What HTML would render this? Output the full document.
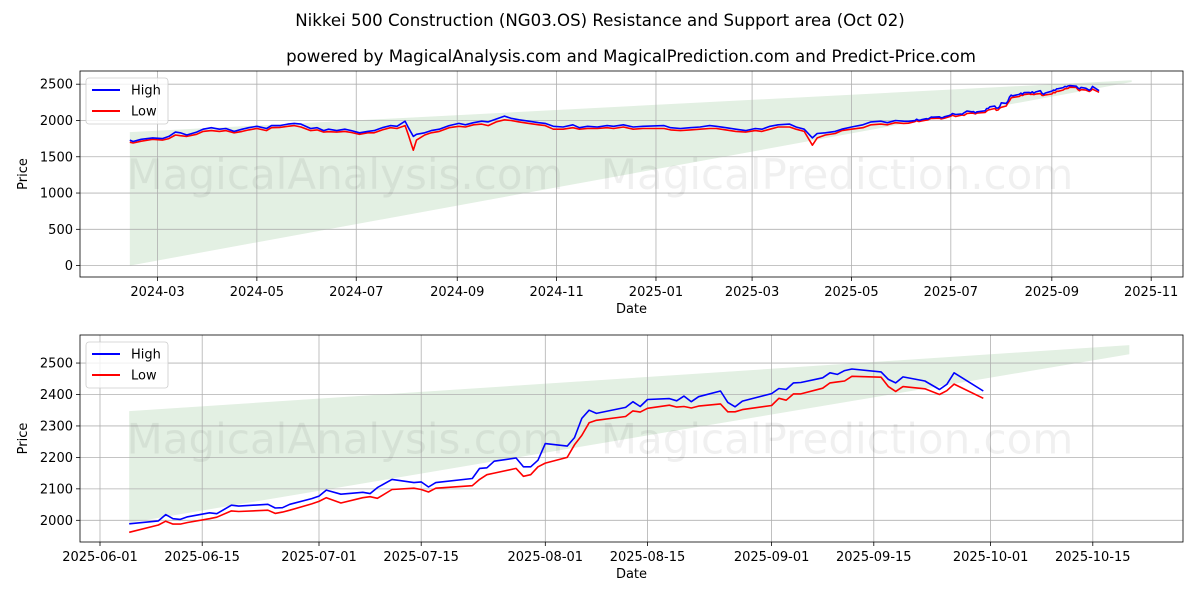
<!DOCTYPE html>
<html><head><meta charset="utf-8">
<style>
html,body{margin:0;padding:0;background:#fff;}
svg{display:block;font-family:"DejaVu Sans","Liberation Sans",sans-serif;}
</style></head>
<body>
<svg id="chart" width="1200" height="600" viewBox="0 0 1200 600" xmlns="http://www.w3.org/2000/svg">
<text x="600" y="26" text-anchor="middle" font-size="16.6">Nikkei 500 Construction (NG03.OS) Resistance and Support area (Oct 02)</text>
<text x="631" y="62" text-anchor="middle" font-size="16.6">powered by MagicalAnalysis.com and MagicalPrediction.com and Predict-Price.com</text>
<g id="top"></g>
<g id="bot"></g>
</svg>
<script>
const earlyDates=["2024-02-13","2024-02-15","2024-02-20","2024-02-27","2024-03-04","2024-03-08","2024-03-12","2024-03-15","2024-03-19","2024-03-25","2024-03-29","2024-04-03","2024-04-08","2024-04-12","2024-04-17","2024-04-22","2024-04-26","2024-05-01","2024-05-07","2024-05-10","2024-05-15","2024-05-20","2024-05-24","2024-05-28","2024-06-03","2024-06-07","2024-06-11","2024-06-14","2024-06-19","2024-06-24","2024-06-28","2024-07-03","2024-07-08","2024-07-12","2024-07-17","2024-07-22","2024-07-26","2024-07-31","2024-08-02","2024-08-05","2024-08-07","2024-08-12","2024-08-16","2024-08-21","2024-08-27","2024-09-02","2024-09-06","2024-09-11","2024-09-16","2024-09-20","2024-09-25","2024-09-30","2024-10-04","2024-10-09","2024-10-15","2024-10-21","2024-10-25","2024-10-30","2024-11-05","2024-11-11","2024-11-15","2024-11-20","2024-11-26","2024-12-02","2024-12-06","2024-12-12","2024-12-18","2024-12-24","2025-01-06","2025-01-10","2025-01-16","2025-01-22","2025-01-28","2025-02-03","2025-02-07","2025-02-13","2025-02-19","2025-02-25","2025-03-03","2025-03-07","2025-03-12","2025-03-17","2025-03-24","2025-03-28","2025-04-02","2025-04-07","2025-04-10","2025-04-15","2025-04-21","2025-04-25","2025-05-01","2025-05-08","2025-05-13","2025-05-19","2025-05-23","2025-05-28","2025-06-02"];
const earlyHigh=[1730,1710,1740,1760,1750,1780,1840,1830,1800,1840,1880,1900,1880,1890,1850,1880,1900,1920,1890,1930,1930,1950,1960,1950,1890,1900,1860,1880,1860,1880,1860,1830,1850,1860,1900,1930,1920,1990,1900,1780,1810,1830,1860,1880,1930,1960,1940,1970,1990,1980,2020,2060,2030,2010,1990,1970,1960,1920,1910,1940,1900,1920,1910,1930,1920,1940,1910,1920,1930,1900,1890,1900,1910,1930,1920,1900,1880,1860,1890,1880,1920,1940,1950,1910,1880,1760,1820,1830,1850,1880,1910,1940,1980,1990,1970,2000,1990];
const earlyLow=[1700,1690,1715,1740,1730,1750,1800,1790,1780,1810,1850,1860,1850,1860,1830,1850,1870,1890,1860,1900,1905,1920,1930,1910,1860,1870,1840,1845,1840,1850,1835,1810,1830,1830,1870,1900,1890,1930,1800,1590,1730,1800,1830,1850,1900,1920,1910,1940,1950,1930,1980,2010,2000,1980,1960,1940,1930,1880,1880,1900,1880,1890,1890,1900,1890,1910,1880,1890,1890,1870,1860,1870,1880,1890,1890,1870,1850,1840,1860,1850,1880,1910,1910,1880,1850,1660,1760,1800,1820,1860,1880,1900,1940,1950,1940,1970,1960];
const recentDates=["2025-06-05","2025-06-09","2025-06-10","2025-06-11","2025-06-12","2025-06-13","2025-06-16","2025-06-17","2025-06-19","2025-06-20","2025-06-24","2025-06-25","2025-06-26","2025-06-27","2025-06-30","2025-07-01","2025-07-02","2025-07-04","2025-07-07","2025-07-08","2025-07-09","2025-07-11","2025-07-14","2025-07-15","2025-07-16","2025-07-17","2025-07-22","2025-07-23","2025-07-24","2025-07-25","2025-07-28","2025-07-29","2025-07-30","2025-07-31","2025-08-01","2025-08-04","2025-08-05","2025-08-06","2025-08-07","2025-08-08","2025-08-12","2025-08-13","2025-08-14","2025-08-15","2025-08-18","2025-08-19","2025-08-20","2025-08-21","2025-08-22","2025-08-25","2025-08-26","2025-08-27","2025-08-28","2025-09-01","2025-09-02","2025-09-03","2025-09-04","2025-09-05","2025-09-08","2025-09-09","2025-09-10","2025-09-11","2025-09-12","2025-09-16","2025-09-17","2025-09-18","2025-09-19","2025-09-22","2025-09-24","2025-09-25","2025-09-26","2025-09-30"];
const recentHigh=[1989,1998,2018,2005,2003,2011,2024,2021,2048,2045,2051,2039,2040,2051,2069,2077,2096,2083,2089,2085,2104,2130,2120,2122,2106,2120,2133,2165,2167,2188,2198,2170,2170,2191,2244,2236,2263,2324,2350,2340,2359,2377,2362,2384,2387,2380,2395,2377,2393,2411,2375,2361,2379,2403,2419,2416,2437,2438,2453,2469,2464,2476,2481,2472,2448,2437,2456,2443,2416,2432,2469,2411];
const recentLow=[1962,1985,1997,1988,1988,1993,2005,2010,2030,2028,2032,2022,2026,2032,2052,2060,2072,2055,2072,2075,2070,2098,2102,2098,2090,2102,2110,2130,2145,2150,2165,2140,2145,2170,2182,2200,2240,2270,2310,2318,2330,2348,2344,2356,2366,2360,2362,2357,2363,2370,2345,2345,2352,2365,2388,2382,2402,2402,2420,2437,2440,2443,2458,2455,2425,2410,2425,2418,2400,2412,2433,2388];
const topBandDates=["2024-02-13","2025-10-20"];
const topBandUpper=[1840,2555];
const topBandLower=[0,2530];
const botBandDates=["2025-06-05","2025-10-20"];
const botBandUpper=[2347,2557];
const botBandLower=[1992,2528];
const topYTicks=[0,500,1000,1500,2000,2500];
const topXTicks=["2024-03","2024-05","2024-07","2024-09","2024-11","2025-01","2025-03","2025-05","2025-07","2025-09","2025-11"];
const botYTicks=[2000,2100,2200,2300,2400,2500];
const botXTicks=["2025-06-01","2025-06-15","2025-07-01","2025-07-15","2025-08-01","2025-08-15","2025-09-01","2025-09-15","2025-10-01","2025-10-15"];

const NS="http://www.w3.org/2000/svg";
const DAY=86400000;
function t(s){return Date.parse(s.length===7?s+"-01":s);}
function mk(parent,tag,attrs){const e=document.createElementNS(NS,tag);for(const k in attrs)e.setAttribute(k,attrs[k]);parent.appendChild(e);return e;}

function panel(g,cfg){
  const {L,R,T,B,d0,x0,pxPerDay,v0,y0,pxPerUnit}=cfg;
  const X=d=>x0+(t(d)-t(d0))/DAY*pxPerDay;
  const Y=v=>y0-(v-v0)*pxPerUnit;
  const bp=[];
  for(let i=0;i<cfg.bandDates.length;i++)bp.push(X(cfg.bandDates[i])+","+Y(cfg.bandUpper[i]));
  for(let i=cfg.bandDates.length-1;i>=0;i--)bp.push(X(cfg.bandDates[i])+","+Y(cfg.bandLower[i]));
  const band=mk(g,"polygon",{points:bp.join(" "),fill:"#e3f0e3"});
  
  
  cfg.yTicks.forEach(v=>{
    const y=Y(v);
    const gl=mk(g,"line",{x1:L,x2:R,y1:y,y2:y,stroke:"#b0b0b0","stroke-width":0.8});
    
    
    mk(g,"line",{x1:L-4,x2:L,y1:y,y2:y,stroke:"#000","stroke-width":0.8});
    const tx=mk(g,"text",{x:L-7,y:y+4.5,"text-anchor":"end","font-size":13});
    tx.textContent=v;
    
    
  });
  cfg.xTicks.forEach(d=>{
    const x=X(d);
    const gl=mk(g,"line",{x1:x,x2:x,y1:T,y2:B,stroke:"#b0b0b0","stroke-width":0.8});
    
    
    mk(g,"line",{x1:x,x2:x,y1:B,y2:B+4,stroke:"#000","stroke-width":0.8});
    const tx=mk(g,"text",{x:x,y:B+19,"text-anchor":"middle","font-size":13});
    tx.textContent=d;
    
    
  });
  [["MagicalAnalysis.com",345],["MagicalPrediction.com",837]].forEach(w=>{
    const tx=mk(g,"text",{x:w[1],y:(T+B)/2+15,"text-anchor":"middle","font-size":42,fill:"#000","fill-opacity":0.06});
    tx.textContent=w[0];
    
    
  });
  const ser=[[cfg.low,"red","low-line"],[cfg.high,"blue","high-line"]];
  ser.forEach(s=>{
    const pts=cfg.dates.map((d,i)=>X(d).toFixed(1)+","+Y(s[0][i]).toFixed(1)).join(" ");
    const pl=mk(g,"polyline",{points:pts,fill:"none",stroke:s[1],"stroke-width":1.6,"stroke-linejoin":"round"});
    
    
  });
  const fr=mk(g,"rect",{x:L,y:T,width:R-L,height:B-T,fill:"none",stroke:"#000","stroke-width":0.8});
  
  
  const xt=mk(g,"text",{x:(L+R)/2,y:B+36,"text-anchor":"middle","font-size":13});
  xt.textContent="Date";
  
  
  const yt=mk(g,"text",{x:0,y:0,"text-anchor":"middle","font-size":13,transform:`translate(27,${(T+B)/2}) rotate(-90)`});
  yt.textContent="Price";
  
  
  const lg=mk(g,"g",{});
  
  
  mk(lg,"rect",{x:L+6,y:T+7,width:82,height:46,rx:3,fill:"#fff","fill-opacity":0.8,stroke:"#ccc","stroke-width":0.8});
  [["High","blue",T+19],["Low","red",T+40]].forEach(e=>{
    const eg=mk(lg,"g",{});
    
    
    mk(eg,"line",{x1:L+12,x2:L+40,y1:e[2],y2:e[2],stroke:e[1],"stroke-width":2});
    const tx=mk(eg,"text",{x:L+51,y:e[2]+4.5,"font-size":13});
    tx.textContent=e[0];
  });
}

const allDates=earlyDates.concat(recentDates);
const allHigh=earlyHigh.concat(recentHigh);
const allLow=earlyLow.concat(recentLow);

panel(document.getElementById("top"),{L:80,R:1183,T:71,B:277,d0:"2024-03-01",x0:157.5,pxPerDay:1.629,v0:0,y0:265.6,pxPerUnit:0.07256,
  bandDates:topBandDates,bandUpper:topBandUpper,bandLower:topBandLower,yTicks:topYTicks,xTicks:topXTicks,
  dates:allDates,high:allHigh,low:allLow});
panel(document.getElementById("bot"),{L:80,R:1183,T:335,B:542,d0:"2025-06-01",x0:100,pxPerDay:7.3,v0:2000,y0:520.3,pxPerUnit:0.3145,
  bandDates:botBandDates,bandUpper:botBandUpper,bandLower:botBandLower,yTicks:botYTicks,xTicks:botXTicks,
  dates:recentDates,high:recentHigh,low:recentLow});
</script>
</body></html>
